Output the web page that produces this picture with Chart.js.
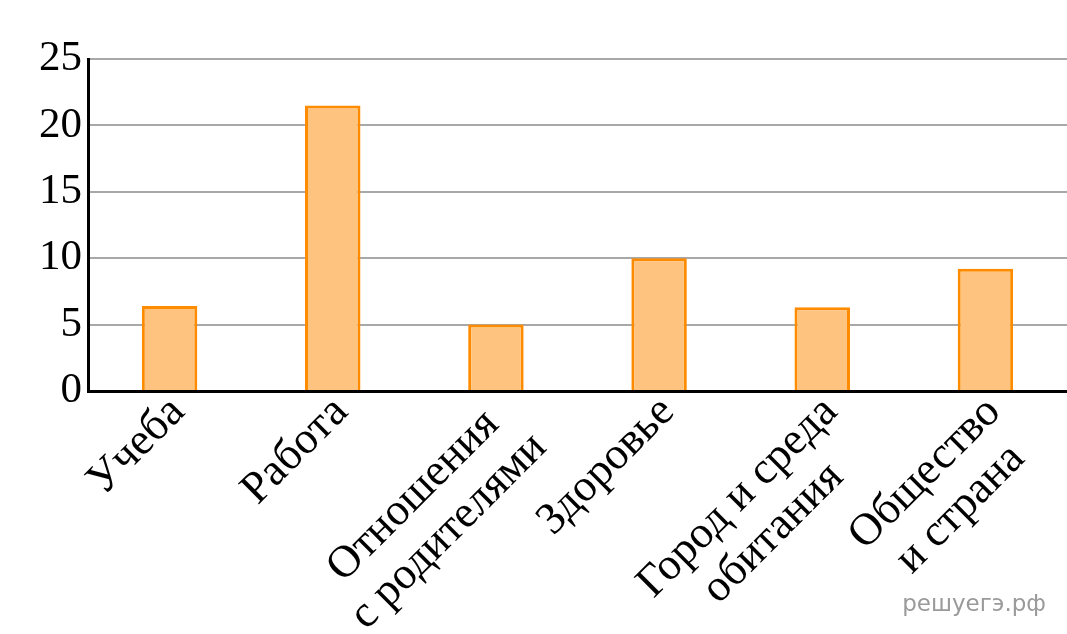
<!DOCTYPE html>
<html>
<head>
<meta charset="utf-8">
<script src="https://cdn.jsdelivr.net/npm/chart.js@4/dist/chart.umd.min.js"></script>
<style>
html,body{margin:0;padding:0;background:#fff;}
#wrap{position:relative;width:1067px;height:634px;}
</style>
</head>
<body>
<div id="wrap"><canvas id="c" width="1067" height="634"></canvas></div>
<script>
const categories = [["Учеба"], ["Работа"], ["Отношения", "с родителями"], ["Здоровье"], ["Город и среда", "обитания"], ["Общество", "и страна"]];
const values = [6.4, 21.5, 5.0, 10.0, 6.3, 9.2];
const yTicks = [0, 5, 10, 15, 20, 25];
const watermark = "решуегэ.рф";

const SERIF = '"Liberation Serif", "Times New Roman", serif';
const LABEL_FONT = 45;
const LINE_H = 50;

const labelPlugin = {
  id: 'rotLabels',
  afterDraw(chart) {
    const ctx = chart.ctx;
    const xs = chart.scales.x;
    const base = chart.chartArea.bottom;
    ctx.save();
    ctx.font = LABEL_FONT + 'px ' + SERIF;
    ctx.fillStyle = '#000';
    ctx.textAlign = 'center';
    ctx.textBaseline = 'middle';
    categories.forEach((lines, i) => {
      const px = xs.getPixelForTick(i);
      const W = Math.max(...lines.map(l => ctx.measureText(l).width));
      ctx.save();
      ctx.translate(px, base);
      ctx.rotate(-Math.PI / 4);
      lines.forEach((l, j) => {
        ctx.fillText(l, -4 - W / 2, 16 + j * LINE_H);
      });
      ctx.restore();
    });
    ctx.font = '23px "DejaVu Sans", sans-serif';
    ctx.fillStyle = '#9a9a9a';
    ctx.textAlign = 'right';
    ctx.textBaseline = 'middle';
    ctx.fillText(watermark, 1046, 605);
    ctx.restore();
  }
};

new Chart(document.getElementById('c'), {
  type: 'bar',
  data: {
    labels: categories,
    datasets: [{
      data: values,
      backgroundColor: '#FEC37E',
      borderColor: '#FF8C00',
      borderWidth: 3,
      barPercentage: 0.34,
      categoryPercentage: 1.0
    }]
  },
  options: {
    responsive: false,
    animation: false,
    events: [],
    layout: { padding: { top: 59, right: 0, left: 0, bottom: 0 } },
    plugins: { legend: { display: false }, tooltip: { enabled: false } },
    scales: {
      x: {
        offset: true,
        grid: { display: false },
        border: { display: true, color: '#000', width: 3 },
        ticks: { display: false },
        afterFit(s) { s.height = 243; }
      },
      y: {
        min: 0, max: 25,
        afterBuildTicks(s) { s.ticks = yTicks.map(v => ({ value: v })); },
        grid: { color: '#A8A8A8', lineWidth: 2, drawTicks: false },
        border: { display: true, color: '#000', width: 3 },
        ticks: {
          color: '#000',
          padding: 6,
          font: { family: SERIF, size: 43 }
        },
        afterFit(s) { s.width = 88; }
      }
    }
  },
  plugins: [labelPlugin]
});
</script>
</body>
</html>
